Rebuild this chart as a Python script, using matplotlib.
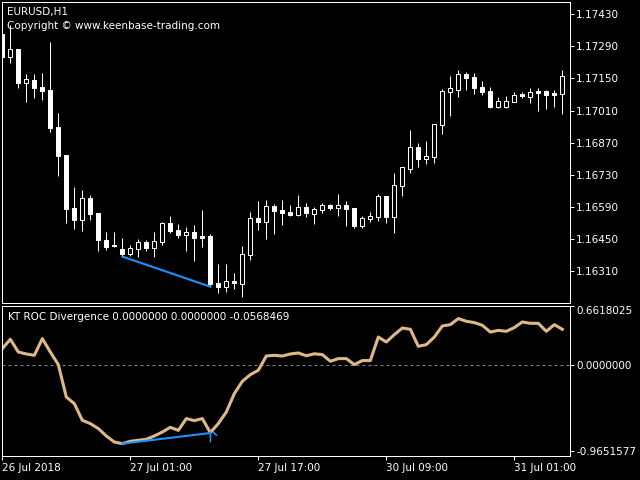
import matplotlib
matplotlib.use('Agg')
import matplotlib.pyplot as plt
from matplotlib.patches import Rectangle
from matplotlib.path import Path

# ---------------- data ----------------
opens = [1.17343, 1.17244, 1.17278, 1.17131, 1.17143, 1.17113, 1.17100, 1.16939, 1.16817, 1.16588,
         1.16534, 1.16630, 1.16566, 1.16447, 1.16424, 1.16408, 1.16388, 1.16410, 1.16437, 1.16414,
         1.16439, 1.16521, 1.16491, 1.16469, 1.16482, 1.16465, 1.16465, 1.16262, 1.16244, 1.16269,
         1.16257, 1.16382, 1.16543, 1.16527, 1.16595, 1.16578, 1.16569, 1.16556, 1.16591, 1.16560,
         1.16578, 1.16600, 1.16587, 1.16600, 1.16587, 1.16510, 1.16540, 1.16549, 1.16639, 1.16549,
         1.16683, 1.16757, 1.16852, 1.16801, 1.16810, 1.16949, 1.17092, 1.17101, 1.17169, 1.17156,
         1.17113, 1.17095, 1.17027, 1.17027, 1.17049, 1.17082, 1.17070, 1.17097, 1.17095, 1.17088,
         1.17083]
highs = [1.17347, 1.17382, 1.17279, 1.17169, 1.17169, 1.17175, 1.17308, 1.17000, 1.16817, 1.16679,
         1.16665, 1.16644, 1.16566, 1.16483, 1.16482, 1.16456, 1.16426, 1.16450, 1.16447, 1.16482,
         1.16526, 1.16552, 1.16517, 1.16504, 1.16513, 1.16578, 1.16473, 1.16343, 1.16343, 1.16304,
         1.16421, 1.16569, 1.16617, 1.16621, 1.16604, 1.16621, 1.16600, 1.16643, 1.16608, 1.16591,
         1.16608, 1.16604, 1.16647, 1.16617, 1.16587, 1.16553, 1.16569, 1.16647, 1.16639, 1.16739,
         1.16765, 1.16926, 1.16869, 1.16878, 1.16952, 1.17104, 1.17160, 1.17187, 1.17178, 1.17174,
         1.17139, 1.17113, 1.17069, 1.17073, 1.17091, 1.17091, 1.17108, 1.17108, 1.17100, 1.17100,
         1.17187]
lows = [1.17241, 1.17218, 1.17107, 1.17049, 1.17066, 1.17056, 1.16918, 1.16727, 1.16520, 1.16495,
        1.16488, 1.16534, 1.16397, 1.16404, 1.16418, 1.16375, 1.16378, 1.16375, 1.16401, 1.16375,
        1.16426, 1.16479, 1.16456, 1.16401, 1.16357, 1.16418, 1.16244, 1.16218, 1.16223, 1.16233,
        1.16201, 1.16360, 1.16491, 1.16452, 1.16473, 1.16513, 1.16552, 1.16552, 1.16547, 1.16517,
        1.16565, 1.16578, 1.16552, 1.16510, 1.16497, 1.16501, 1.16527, 1.16531, 1.16523, 1.16479,
        1.16639, 1.16740, 1.16766, 1.16779, 1.16783, 1.16910, 1.16987, 1.17070, 1.17101, 1.17083,
        1.17079, 1.17023, 1.17023, 1.17023, 1.17048, 1.17066, 1.17044, 1.17010, 1.17018, 1.17027,
        1.16997]
closes = [1.17243, 1.17277, 1.17131, 1.17146, 1.17108, 1.17095, 1.16933, 1.16813, 1.16582, 1.16534,
          1.16629, 1.16560, 1.16447, 1.16416, 1.16420, 1.16387, 1.16413, 1.16437, 1.16413, 1.16443,
          1.16521, 1.16487, 1.16469, 1.16482, 1.16456, 1.16456, 1.16255, 1.16244, 1.16269, 1.16262,
          1.16387, 1.16543, 1.16527, 1.16595, 1.16573, 1.16565, 1.16556, 1.16591, 1.16565, 1.16582,
          1.16600, 1.16587, 1.16600, 1.16583, 1.16510, 1.16542, 1.16553, 1.16639, 1.16549, 1.16687,
          1.16765, 1.16852, 1.16801, 1.16813, 1.16952, 1.17095, 1.17108, 1.17169, 1.17152, 1.17110,
          1.17092, 1.17027, 1.17052, 1.17052, 1.17078, 1.17073, 1.17091, 1.17088, 1.17079, 1.17079,
          1.17160]
roc = [0.187, 0.292, 0.149, 0.127, 0.112, 0.299, 0.149, 0.008, -0.356, -0.430,
       -0.617, -0.654, -0.710, -0.793, -0.861, -0.879, -0.853, -0.841, -0.830, -0.793,
       -0.749, -0.696, -0.730, -0.598, -0.621, -0.598, -0.755, -0.654, -0.524, -0.318,
       -0.180, -0.105, -0.056, 0.104, 0.112, 0.104, 0.127, 0.138, 0.107, 0.129,
       0.120, 0.045, 0.075, 0.075, 0.008, 0.053, 0.053, 0.317, 0.261, 0.344,
       0.418, 0.404, 0.213, 0.232, 0.317, 0.441, 0.456, 0.524, 0.494, 0.479,
       0.449, 0.373, 0.392, 0.381, 0.423, 0.486, 0.471, 0.471, 0.381, 0.456,
       0.404]

price_ticks = [1.17430, 1.17290, 1.17150, 1.17010, 1.16870, 1.16730, 1.16590, 1.16450, 1.16310]
x_tick_pos = [0, 16, 32, 48, 64]
x_tick_labels = ['26 Jul 2018', '27 Jul 01:00', '27 Jul 17:00', '30 Jul 09:00', '31 Jul 01:00']
roc_ticks = [0.6618025, 0.0, -0.9651577]
roc_tick_labels = ['0.6618025', '0.0000000', '-0.9651577']

div_idx = [15, 26]
div_price = [1.16375, 1.16244]
div_roc = [-0.879, -0.760]

symbol_text = 'EURUSD,H1'
copyright_text = 'Copyright \u00a9 www.keenbase-trading.com'
indicator_text = 'KT ROC Divergence 0.0000000 0.0000000 -0.0568469'

# ---------------- style ----------------
FS = 7.5
WHITE = 'white'
TAN = '#DEB887'
BLUE = '#1E90FF'
PX = 0.72

fig = plt.figure(figsize=(6.4, 4.8), dpi=100, facecolor='black')
ax1 = fig.add_axes([2 / 640, 1 - 303 / 480, 568 / 640, 301 / 480], facecolor='black')
ax2 = fig.add_axes([2 / 640, 1 - 456 / 480, 568 / 640, 150 / 480], facecolor='black')

for ax in (ax1, ax2):
    for s in ax.spines.values():
        s.set_color(WHITE)
        s.set_linewidth(PX)
    ax.set_xlim(-0.04, 70.96)
    ax.yaxis.tick_right()
    ax.tick_params(axis='y', colors=WHITE, length=3, width=PX, pad=1.5, labelsize=FS)

# candles
w = 0.5
for i in range(len(opens)):
    o, h, l, c = opens[i], highs[i], lows[i], closes[i]
    ax1.vlines(i, l, h, color=WHITE, lw=PX, zorder=1)
    bear = o > c
    ax1.add_patch(Rectangle((i - w / 2, min(o, c)), w, abs(c - o),
                            facecolor=WHITE if bear else 'black',
                            edgecolor=WHITE, lw=PX, zorder=2))
ax1.plot(div_idx, div_price, color=BLUE, lw=1.5, zorder=3)

ax1.set_ylim(1.16173, 1.17482)
ax1.set_yticks(price_ticks)
ax1.set_yticklabels(['%.5f' % v for v in price_ticks])
ax1.set_xticks([])

fig.text(7 / 640, 1 - 12.5 / 480, symbol_text, color=WHITE, fontsize=FS, va='center', ha='left')
fig.text(7 / 640, 1 - 26 / 480, copyright_text, color=WHITE, fontsize=FS, va='center', ha='left')

# indicator
ax2.axhline(0, color='#778899', lw=PX, ls=(0, (3, 3)), zorder=1)
ax2.plot(range(len(roc)), roc, color=TAN, lw=2.2, zorder=2, solid_joinstyle='round')
ax2.plot(div_idx, div_roc, color=BLUE, lw=1.5, zorder=3)
arrow = Path([(0, 0.25), (0, -1.0), (0.3, 0.19), (0.73, -0.26)],
             [Path.MOVETO, Path.LINETO, Path.MOVETO, Path.LINETO])
ax2.plot([div_idx[1]], [div_roc[1]], marker=arrow, markersize=12.7, color=BLUE,
         markeredgewidth=1.2, fillstyle='none', linestyle='none', zorder=4)

ax2.set_ylim(-1.0178, 0.6652)
ax2.set_yticks(roc_ticks)
ax2.set_yticklabels(roc_tick_labels)
ax2.get_yticklabels()[0].set_va('top')
ax2.set_xticks(x_tick_pos)
ax2.set_xticklabels(x_tick_labels, ha='left')
ax2.tick_params(axis='x', colors=WHITE, length=3, width=PX, pad=2, labelsize=FS)
ax2.text(6 / 568, 1 - 11 / 150, indicator_text, transform=ax2.transAxes, color=WHITE,
         fontsize=FS, va='center', ha='left')

fig.savefig('out.png', dpi=100, facecolor='black')
